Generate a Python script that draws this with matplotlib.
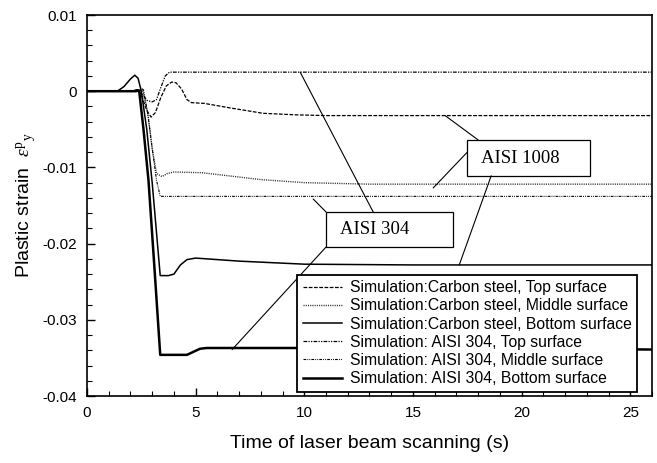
import matplotlib
matplotlib.use('Agg')
import matplotlib.pyplot as plt
from matplotlib.patches import Rectangle
from matplotlib.ticker import MultipleLocator

plt.rcParams['font.family'] = ['Liberation Sans', 'DejaVu Sans']
plt.rcParams['axes.unicode_minus'] = False
plt.rcParams['mathtext.fontset'] = 'custom'
plt.rcParams['mathtext.rm'] = 'Liberation Serif'
plt.rcParams['mathtext.it'] = 'Liberation Serif:italic'

# plastic strain histories (time in s)
cs_top_t = [0, 2.0, 2.3, 2.5, 2.75, 2.95, 3.15, 3.4, 3.65, 3.9, 4.1, 4.35, 4.6, 4.8,
            5.4, 6.6, 8.1, 9.6, 11, 26]
cs_top_y = [0, 0, 0.0002, -0.0005, -0.0025, -0.0034, -0.0028, -0.0008, 0.0007, 0.0012,
            0.0011, 0.0003, -0.0011, -0.0015, -0.0016, -0.0022, -0.0029, -0.0031,
            -0.0032, -0.0032]

cs_mid_t = [0, 2.3, 2.55, 2.8, 3.0, 3.2, 3.45, 3.7, 4.0, 5.3, 6.5, 8, 10, 13, 26]
cs_mid_y = [0, 0, 0.0003, -0.003, -0.0075, -0.0108, -0.0112, -0.0108, -0.0106, -0.0107,
            -0.0111, -0.0116, -0.012, -0.0122, -0.0122]

cs_bot_t = [0, 1.4, 1.7, 2.0, 2.2, 2.35, 2.5, 2.75, 3.0, 3.37, 3.75, 4.0, 4.3, 4.6, 5.0,
            7, 10, 15, 26]
cs_bot_y = [0, 0, 0.0006, 0.0016, 0.0021, 0.0017, 0.0, -0.005, -0.012, -0.0242, -0.0242,
            -0.024, -0.0228, -0.0221, -0.0219, -0.0223, -0.0227, -0.0228, -0.0228]

ss_top_t = [0, 2.1, 2.35, 2.55, 2.75, 3.0, 3.2, 3.4, 3.6, 3.8, 26]
ss_top_y = [0, 0, 0.0002, -0.0004, -0.0012, -0.0014, -0.0011, 0.0005, 0.002, 0.0025,
            0.0025]

ss_mid_t = [0, 2.4, 2.6, 2.8, 3.0, 3.2, 3.37, 26]
ss_mid_y = [0, 0, 0.0002, -0.003, -0.0075, -0.0117, -0.0138, -0.0138]

ss_bot_t = [0, 2.25, 2.4, 2.6, 2.83, 3.1, 3.37, 4.0, 4.6, 4.9, 5.2, 5.5, 7, 10, 15, 20, 26]
ss_bot_y = [0, 0, 0.0001, -0.005, -0.0117, -0.023, -0.0346, -0.0346, -0.0346, -0.0342,
            -0.0338, -0.0337, -0.0337, -0.0337, -0.0337, -0.0338, -0.0339]

labels = ['Simulation:Carbon steel, Top surface',
          'Simulation:Carbon steel, Middle surface',
          'Simulation:Carbon steel, Bottom surface',
          'Simulation: AISI 304, Top surface',
          'Simulation: AISI 304, Middle surface',
          'Simulation: AISI 304, Bottom surface']

x_ticks = [0, 5, 10, 15, 20, 25]
y_ticks = [0.01, 0, -0.01, -0.02, -0.03, -0.04]
y_tick_labels = ['0.01', '0', '-0.01', '-0.02', '-0.03', '-0.04']

fig = plt.figure(figsize=(6.57, 4.63), dpi=100)
ax = fig.add_axes([0.1324, 0.1447, 0.8600, 0.8229])

ax.plot(cs_top_t, cs_top_y, color='black', lw=0.9, dashes=(3, 1.2), label=labels[0])
ax.plot(cs_mid_t, cs_mid_y, color='#333333', lw=1.0, dashes=(0.8, 0.8), label=labels[1])
ax.plot(cs_bot_t, cs_bot_y, color='black', lw=1.1, label=labels[2])
ax.plot(ss_top_t, ss_top_y, color='black', lw=0.9, dashes=(3, 1, 1, 1, 1, 1), label=labels[3])
ax.plot(ss_mid_t, ss_mid_y, color='black', lw=0.8, dashes=(2.5, 1, 0.8, 1, 0.8, 1), label=labels[4])
ax.plot(ss_bot_t, ss_bot_y, color='black', lw=1.8, label=labels[5])

ax.set_xlim(0, 26)
ax.set_ylim(-0.04, 0.01)
ax.set_xticks(x_ticks)
ax.set_yticks(y_ticks)
ax.set_yticklabels(y_tick_labels)
ax.xaxis.set_minor_locator(MultipleLocator(1))
ax.yaxis.set_minor_locator(MultipleLocator(0.002))
ax.tick_params(which='both', direction='in', top=False, right=False, labelsize=11)
ax.tick_params(which='major', length=6, width=1)
ax.tick_params(which='minor', length=3.5, width=0.8)
ax.tick_params(axis='x', pad=7)
ax.tick_params(axis='y', pad=7)
for s in ax.spines.values():
    s.set_linewidth(1.2)

ax.set_xlabel('Time of laser beam scanning (s)', fontsize=14, labelpad=11)
ax.set_ylabel(r'Plastic strain  $\varepsilon^{\rm p}{}_{\rm y}$', fontsize=14, labelpad=3)

leg = ax.legend(loc='upper left', bbox_to_anchor=(0.372, 0.318), borderaxespad=0,
                fontsize=11.3, frameon=True, fancybox=False, framealpha=1,
                handlelength=2.5, handletextpad=0.5, labelspacing=0.2,
                borderpad=0.35)
leg.get_frame().set_edgecolor('black')
leg.get_frame().set_linewidth(1.3)

# material labels with leader lines
line_kw = dict(arrowstyle='-', lw=0.8, color='black', shrinkA=0, shrinkB=0)

ax.add_patch(Rectangle((17.5, -0.0111), 5.65, 0.0047, fill=False, lw=0.9, zorder=4))
ax.text(18.15, -0.00877, 'AISI 1008', family='Liberation Serif', fontsize=13.5,
        va='center', ha='left')
ax.annotate('', xy=(16.48, cs_top_y[-1]), xytext=(18.0, -0.0064), arrowprops=line_kw)
ax.annotate('', xy=(15.93, -0.0127), xytext=(17.5, -0.008), arrowprops=line_kw)
ax.annotate('', xy=(17.13, cs_bot_y[-1]), xytext=(18.6, -0.0111), arrowprops=line_kw)

ax.add_patch(Rectangle((11.0, -0.02045), 5.85, 0.0046, fill=False, lw=0.9, zorder=4))
ax.text(11.65, -0.0182, 'AISI 304', family='Liberation Serif', fontsize=13.5,
        va='center', ha='left')
ax.annotate('', xy=(9.81, ss_top_y[-1]), xytext=(13.17, -0.01585), arrowprops=line_kw)
ax.annotate('', xy=(10.41, -0.01415), xytext=(11.0, -0.01585), arrowprops=line_kw)
ax.annotate('', xy=(6.68, ss_bot_y[-1]), xytext=(11.0, -0.02045), arrowprops=line_kw)

fig.savefig('out.png', dpi=100)
